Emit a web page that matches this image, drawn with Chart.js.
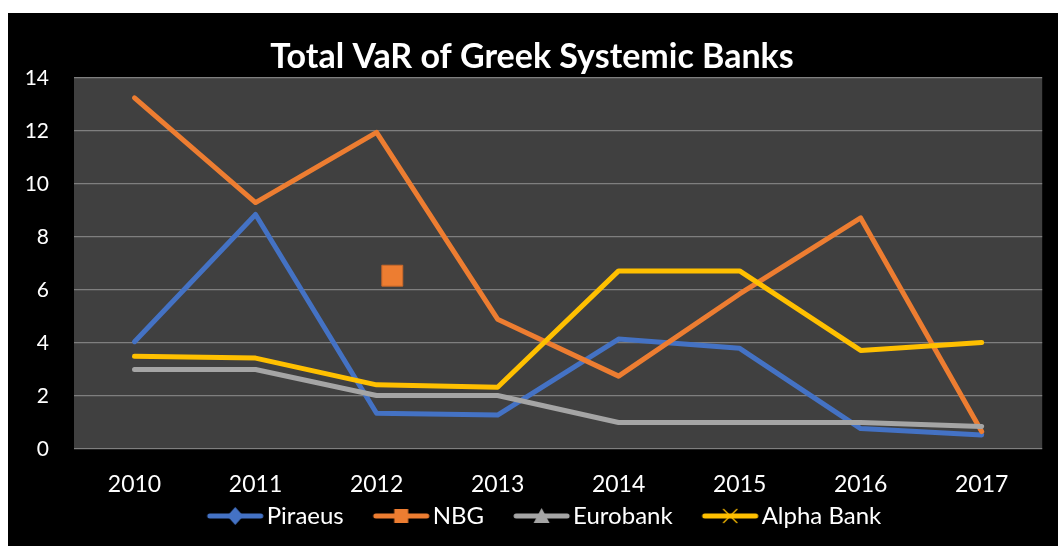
<!DOCTYPE html>
<html>
<head>
<meta charset="utf-8">
<script src="https://cdn.jsdelivr.net/npm/chart.js@4.4.1/dist/chart.umd.min.js"></script>
<style>
  html, body { margin: 0; padding: 0; background: #fff; }
  #wrap { position: absolute; left: 8px; top: 13px; width: 1050px; height: 533px; background: #000; }
</style>
</head>
<body>
<div id="wrap"><canvas id="varChart"></canvas></div>
<script>
const years = ['2010', '2011', '2012', '2013', '2014', '2015', '2016', '2017'];
const piraeus = [4.05, 8.85, 1.35, 1.28, 4.15, 3.8, 0.77, 0.53];
const nbg = [13.25, 9.3, 11.95, 4.9, 2.75, 5.85, 8.72, 0.66];
const eurobank = [3.0, 3.0, 2.02, 2.02, 1.0, 1.0, 1.0, 0.85];
const alphaBank = [3.5, 3.43, 2.42, 2.33, 6.72, 6.72, 3.72, 4.02];
const yTicks = [0, 2, 4, 6, 8, 10, 12, 14];

// the lone NBG marker floating in the plot (x in category units, 2010 = 0)
const strayX = [2.13];
const strayY = [6.54];

const FONT = 'Lato, "Open Sans", sans-serif';

// legend symbol: short line with the excel marker on it
// canvas is wider than the line so the legend gets its spacing from it
function legendIcon(color, marker) {
  const c = document.createElement('canvas');
  c.width = 100; c.height = 24;
  const g = c.getContext('2d');
  const x0 = 38, len = 57, cy = 12;
  g.strokeStyle = color;
  g.lineWidth = 5;
  g.lineCap = 'round';
  g.beginPath(); g.moveTo(x0 + 3, cy); g.lineTo(x0 + len - 3, cy); g.stroke();
  g.fillStyle = color;
  const cx = x0 + len / 2;
  if (marker === 'diamond') {
    g.beginPath(); g.moveTo(cx, cy - 9); g.lineTo(cx + 8, cy); g.lineTo(cx, cy + 9); g.lineTo(cx - 8, cy); g.closePath(); g.fill();
  } else if (marker === 'square') {
    g.fillRect(cx - 7, cy - 7, 14, 14);
  } else if (marker === 'triangle') {
    g.beginPath(); g.moveTo(cx, cy - 8); g.lineTo(cx + 8, cy + 7); g.lineTo(cx - 8, cy + 7); g.closePath(); g.fill();
  } else if (marker === 'cross') {
    g.lineWidth = 1.2; g.lineCap = 'butt';
    g.beginPath(); g.moveTo(cx - 7, cy - 7); g.lineTo(cx + 7, cy + 7); g.moveTo(cx + 7, cy - 7); g.lineTo(cx - 7, cy + 7); g.stroke();
  }
  return c;
}

const plotBg = {
  id: 'plotBg',
  beforeDraw(chart) {
    const a = chart.chartArea, ctx = chart.ctx;
    ctx.save();
    ctx.fillStyle = '#404040';
    ctx.fillRect(a.left, a.top, a.right - a.left, a.bottom - a.top);
    ctx.restore();
  }
};

const series = [
  { label: 'Piraeus', data: piraeus, color: '#4472C4', marker: 'diamond', order: 4 },
  { label: 'NBG', data: nbg, color: '#ED7D31', marker: 'square', order: 3 },
  { label: 'Eurobank', data: eurobank, color: '#A5A5A5', marker: 'triangle', order: 2 },
  { label: 'Alpha Bank', data: alphaBank, color: '#FFC000', marker: 'cross', order: 1 }
];

const datasets = series.map(s => ({
  label: s.label,
  data: s.data,
  borderColor: s.color,
  backgroundColor: s.color,
  borderWidth: 5,
  borderCapStyle: 'round',
  borderJoinStyle: 'round',
  pointRadius: 0,
  tension: 0,
  order: s.order
}));

datasets.push({
  type: 'scatter',
  label: 'stray',
  data: strayX.map((x, i) => ({ x: x, y: strayY[i] })),
  xAxisID: 'xs',
  pointStyle: 'rect',
  pointRadius: 14.8,
  backgroundColor: '#ED7D31',
  borderColor: '#C8682A',
  borderWidth: 1,
  order: 0
});

new Chart(document.getElementById('varChart'), {
  type: 'line',
  data: { labels: years, datasets: datasets },
  options: {
    responsive: true,
    maintainAspectRatio: false,
    animation: false,
    layout: { padding: { left: 0, right: 2, top: 0, bottom: 8 } },
    plugins: {
      title: {
        display: true,
        text: 'Total VaR of Greek Systemic Banks',
        color: '#fff',
        font: { family: FONT, size: 34, weight: 'bold' },
        padding: { top: 24, bottom: 0.2 }
      },
      legend: {
        position: 'bottom',
        labels: {
          color: '#fff',
          font: { family: FONT, size: 24 },
          usePointStyle: true,
          pointStyleWidth: 72,
          padding: 5,
          generateLabels: () => series.map((s, i) => ({
            text: s.label,
            pointStyle: legendIcon(s.color, s.marker),
            fontColor: '#fff',
            strokeStyle: s.color,
            fillStyle: s.color,
            lineWidth: 0,
            datasetIndex: i
          }))
        }
      },
      tooltip: { enabled: false }
    },
    scales: {
      x: {
        offset: true,
        grid: { display: false, drawTicks: false },
        border: { display: false },
        ticks: { color: '#fff', font: { family: FONT, size: 23 }, padding: 22 },
        afterFit: s => { s.height = 50; }
      },
      xs: {
        type: 'linear',
        display: false,
        min: -0.5,
        max: years.length - 0.5
      },
      y: {
        min: yTicks[0],
        max: yTicks[yTicks.length - 1],
        afterBuildTicks: s => { s.ticks = yTicks.map(v => ({ value: v })); },
        grid: { color: '#7F7F7F', lineWidth: 1.3, drawTicks: false },
        border: { display: false },
        ticks: { color: '#fff', font: { family: FONT, size: 21 }, padding: 25 },
        afterFit: s => { s.width = 66; }
      }
    }
  },
  plugins: [plotBg]
});
</script>
</body>
</html>
